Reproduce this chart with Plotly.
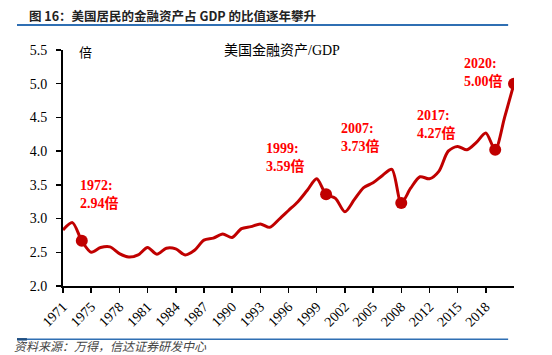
import plotly.graph_objects as go

# categories (year labels of the data points; 1974 absent in source)
years = [str(y) for y in range(1971, 2021) if y != 1974]
ratio = [2.83, 2.94, 2.67, 2.50, 2.57, 2.58, 2.48, 2.43, 2.46, 2.57,
         2.47, 2.56, 2.55, 2.46, 2.53, 2.68, 2.71, 2.77, 2.72, 2.85,
         2.88, 2.92, 2.87, 2.99, 3.12, 3.25, 3.42, 3.59, 3.36, 3.30,
         3.10, 3.28, 3.46, 3.53, 3.64, 3.73, 3.23, 3.45, 3.62, 3.59,
         3.70, 4.00, 4.07, 4.02, 4.13, 4.27, 4.02, 4.50, 5.00]
# tick labels as printed on the reference axis (every third category)
tick_labels = ["1971", "1975", "1978", "1981", "1984", "1987", "1990", "1993",
               "1996", "1999", "2002", "2005", "2008", "2012", "2015", "2018"]
tick_cats = years[0::3][:len(tick_labels)]
# highlighted points
mark_idx = [2, 28, 36, 46, 48]
mark_years = [years[i] for i in mark_idx]
mark_vals = [ratio[i] for i in mark_idx]
labels = ["1972:<br>2.94倍", "1999:<br>3.59倍", "2007:<br>3.73倍", "2017:<br>4.27倍", "2020:<br>5.00倍"]
label_pos = [(1.56, 3.36), (21.35, 3.91), (29.4, 4.20), (37.5, 4.40), (42.5, 5.17)]

RED = "#c00000"
SERIF = "Liberation Serif, 'Times New Roman', 'Noto Sans CJK SC', serif"

fig = go.Figure()
fig.add_trace(go.Scatter(x=years, y=ratio, mode="lines", name="美国金融资产/GDP",
                         line=dict(color=RED, width=3, shape="spline", smoothing=0.8),
                         showlegend=False))
fig.add_trace(go.Scatter(x=mark_years, y=mark_vals, mode="markers",
                         marker=dict(color=RED, size=12), showlegend=False))

ann = []
for txt, (ax, ay) in zip(labels, label_pos):
    ann.append(dict(x=ax, y=ay, xref="x", yref="y", text=txt, showarrow=False,
                    xanchor="left", yanchor="middle", align="left",
                    font=dict(family=SERIF, size=14, color="#ff0000", weight="bold")))

ann.append(dict(x=-0.0798, y=1.148, xref="paper", yref="paper", showarrow=False,
                xanchor="left", yanchor="middle",
                text="<b>图 16：美国居民的金融资产占 GDP 的比值逐年攀升</b>",
                font=dict(family="Noto Sans CJK SC, sans-serif", size=12.5, color="#222222")))
ann.append(dict(x=0.031, y=0.991, xref="paper", yref="paper", showarrow=False,
                xanchor="left", yanchor="middle", text="倍",
                font=dict(family=SERIF, size=13, color="#000000")))
ann.append(dict(x=0.3525, y=1.0, xref="paper", yref="paper", showarrow=False,
                xanchor="left", yanchor="middle", text="美国金融资产/GDP",
                font=dict(family=SERIF, size=14, color="#000000")))
ann.append(dict(x=-0.113, y=-0.254, xref="paper", yref="paper", showarrow=False,
                xanchor="left", yanchor="middle", text="资料来源：万得，信达证券研发中心",
                font=dict(family="Noto Sans CJK SC, sans-serif", size=12, color="#444444",
                          style="italic")))

shapes = [
    dict(type="line", xref="paper", yref="paper", x0=-0.102, x1=0.987, y0=1.106, y1=1.106,
         line=dict(color="#2f6fb3", width=2)),
    dict(type="line", xref="paper", yref="paper", x0=-0.102, x1=0.987, y0=-0.226, y1=-0.226,
         line=dict(color="#2f6fb3", width=1.5)),
    dict(type="line", xref="paper", yref="paper", x0=-0.102, x1=-0.08, y0=-0.226, y1=-0.226,
         line=dict(color="#1f4e80", width=2.5)),
]

fig.update_layout(
    width=552, height=355, autosize=False,
    margin=dict(l=63, r=38, t=50, b=69),
    paper_bgcolor="white", plot_bgcolor="white",
    annotations=ann, shapes=shapes,
    xaxis=dict(type="category", categoryorder="array", categoryarray=years,
               range=[0, len(years) - 1], tickmode="array",
               tickvals=tick_cats, ticktext=tick_labels, tickangle=-45,
               showline=True, linecolor="black", linewidth=2,
               ticks="outside", ticklen=5, tickwidth=1.5, tickcolor="black",
               showgrid=False, zeroline=False,
               tickfont=dict(family=SERIF, size=14, color="black")),
    yaxis=dict(range=[2, 5.5], dtick=0.5, tick0=2, tickformat=".1f",
               showline=True, linecolor="black", linewidth=2,
               ticks="outside", ticklen=5, tickwidth=1.5, tickcolor="black",
               showgrid=False, zeroline=False, ticklabelstandoff=6,
               tickfont=dict(family=SERIF, size=14, color="black")),
)

fig.write_html("out.html", config={"displayModeBar": False, "staticPlot": True},
               post_script="document.body.style.margin='0';document.body.style.overflow='hidden';")
